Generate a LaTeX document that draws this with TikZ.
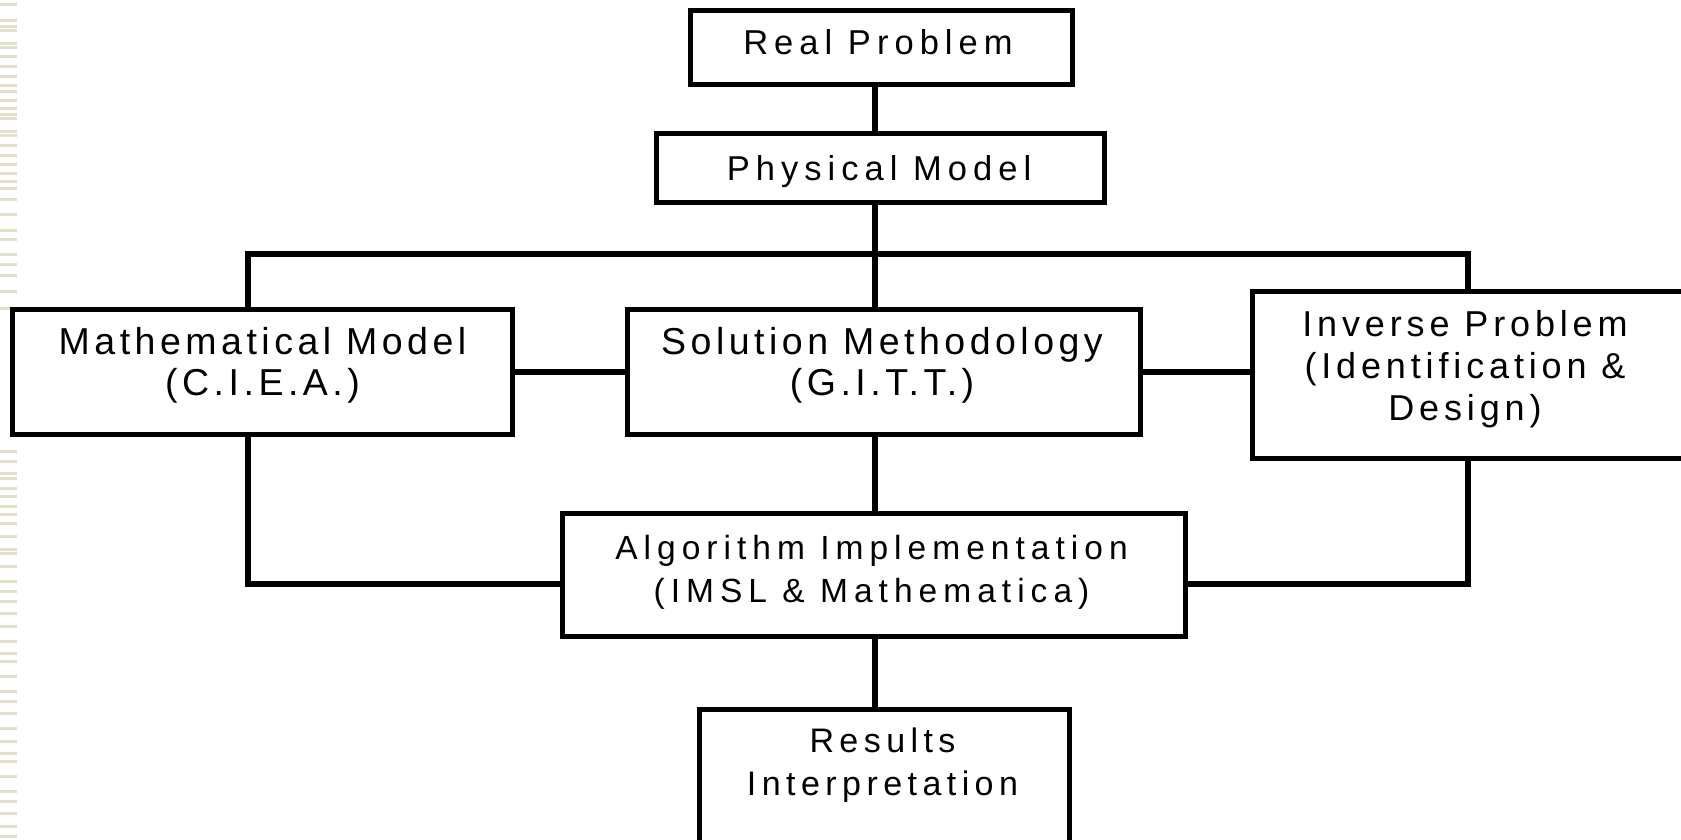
\documentclass[tikz,border=0pt]{standalone}
\usepackage{fontspec}
\setmainfont{Liberation Sans}
\newfontfamily\fsmall[LetterSpace=17.5]{Liberation Sans}
\newfontfamily\fres[LetterSpace=16]{Liberation Sans}
\newfontfamily\fmid[LetterSpace=18]{Liberation Sans}
\newfontfamily\fbig[LetterSpace=12]{Liberation Sans}
\newfontfamily\finv[LetterSpace=13.5]{Liberation Sans}
\definecolor{stripe}{HTML}{E2E0CA}
\begin{document}
\begin{tikzpicture}[x=1pt,y=-1pt,
  box/.style={draw=black, line width=5pt, fill=white, inner sep=0pt},
  conn/.style={line width=6pt},
  lbl/.style={align=center, inner sep=0pt}]
\useasboundingbox (0,0) rectangle (1681,840);
\clip (0,0) rectangle (1681,840);
\fill[white] (0,0) rectangle (1681,840);
% left slide decoration
\foreach \yy in {3,19,25,29,42,46,55,65,75,84,90,99,107,113,117,130,134,144,154,163,172,180,187,198,213,229,238,253,263,274,290,307,450,460,472,477,487,495,505,513,522,535,548,552,565,580,590,600,612,625,640,652,660,675,690,700,712,727,740,752,760,775,790,800,812,825,835}
  \fill[stripe] (0,\yy) rectangle (17,\yy+3);

% named points for the connectors
\coordinate (vL) at (248,254);
\coordinate (vR) at (1468,254);
\coordinate (bL) at (248,584);
\coordinate (bR) at (1468,584);
\coordinate (vC) at (875,0);

% boxes
\node[box, minimum width=382pt, minimum height=74pt] (real) at (881.5,47.5) {};
\node[box, minimum width=448pt, minimum height=69pt] (phys) at (880.5,168) {};
\node[box, minimum width=500pt, minimum height=125pt] (math) at (262.5,372) {};
\node[box, minimum width=513pt, minimum height=125pt] (sol) at (884,372) {};
\node[box, minimum width=437pt, minimum height=167pt] (inv) at (1471,375) {};
\node[box, minimum width=623pt, minimum height=123pt] (alg) at (874,575) {};
\node[box, minimum width=370pt, minimum height=151pt] (res) at (884.5,785) {};

% connectors
\draw[conn] (real.south -| vC) -- (phys.north -| vC);
\draw[conn] (phys.south -| vC) -- (sol.north -| vC);
\draw[conn] (math.north -| vL) -- (vL) -- (vR) -- (inv.north -| vR);
\draw[conn] (math.east) -- (sol.west);
\draw[conn] (sol.east) -- (sol.east -| inv.west);
\draw[conn] (sol.south -| vC) -- (alg.north -| vC);
\draw[conn] (math.south -| bL) -- (bL) -- (alg.west |- bL);
\draw[conn] (inv.south -| bR) -- (bR) -- (alg.east |- bR);
\draw[conn] (alg.south -| vC) -- (res.north -| vC);

% texts
\node[lbl, anchor=base, font={\fsmall\fontsize{34.5}{42}\selectfont}] (realT) at (878,55) {Real Problem};
\node[lbl, anchor=base, font={\fsmall\fontsize{34.5}{42}\selectfont}] (physT) at (879,180) {Physical Model};
\node[lbl, font={\fbig\fontsize{37.5}{41}\selectfont}] (mathT) at (262.5,365) {Mathematical Model\\(C.I.E.A.)};
\node[lbl, font={\fbig\fontsize{37.5}{41}\selectfont}] (solT) at (882,365) {Solution Methodology\\(G.I.T.T.)};
\node[lbl, font={\finv\fontsize{36}{42}\selectfont}] (invT) at (1465,369) {Inverse Problem\\(Identification \&\\Design)};
\node[lbl, font={\fmid\fontsize{33.5}{43}\selectfont}] (algT) at (871.5,572) {Algorithm Implementation\\(IMSL \& Mathematica)};
\node[lbl, font={\fres\fontsize{34}{43}\selectfont}] (resT) at (882.5,765.5) {Results\\Interpretation};
\end{tikzpicture}
\end{document}
